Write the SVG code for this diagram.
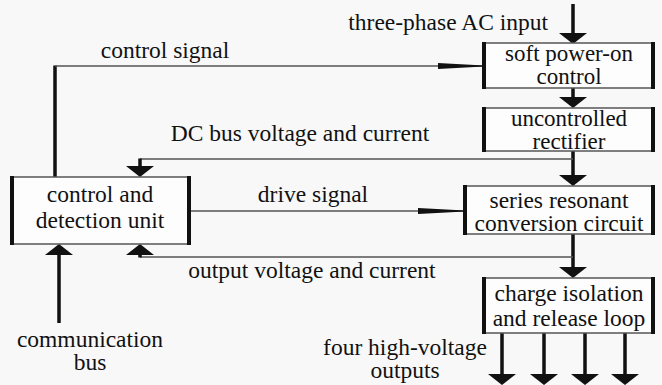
<svg xmlns="http://www.w3.org/2000/svg" width="662" height="385" viewBox="0 0 662 385">
<defs>
<style>
.bg{fill:#f8f8f8}
.box{fill:#fdfdfd;stroke:#555;stroke-width:1.5}
.side{stroke:#111;stroke-width:4}
.thick{stroke:#111;stroke-width:3.5;fill:none}
.thin{stroke:#555;stroke-width:1.5;fill:none}
.head{fill:#111}
</style>
</defs>
<rect class="bg" x="0" y="0" width="662" height="385"/>

<g id="connectors">
  <line class="thick" x1="573" y1="4" x2="573" y2="34"/>
  <polygon class="head" points="559,33 587,33 573,44"/>
  <line class="thick" x1="573" y1="88" x2="573" y2="98"/>
  <polygon class="head" points="559,97 587,97 573,108"/>
  <line class="thick" x1="573" y1="151" x2="573" y2="176"/>
  <polygon class="head" points="559,175 587,175 573,186"/>
  <line class="thick" x1="573" y1="234" x2="573" y2="268"/>
  <polygon class="head" points="559,267 587,267 573,278"/>
  <polyline class="thin" points="573,159 140,159"/>
  <line class="thick" x1="140" y1="158.5" x2="140" y2="167"/>
  <polygon class="head" points="126,166 154,166 140,177"/>
  <polyline class="thin" points="573,257 140,257"/>
  <line class="thick" x1="140" y1="257.5" x2="140" y2="253"/>
  <polygon class="head" points="126,255 154,255 140,244"/>
  <line class="thick" x1="55" y1="177" x2="55" y2="65.5"/>
  <line class="thin" x1="55" y1="66" x2="484" y2="66"/>
  <polygon class="head" points="438,63 484,65.5 484,66.5 438,69"/>
  <line class="thin" x1="189" y1="211" x2="465" y2="211"/>
  <polygon class="head" points="418,208 465,210.5 465,211.5 418,214"/>
  <line class="thick" x1="59" y1="323" x2="59" y2="253"/>
  <polygon class="head" points="45,255 73,255 59,244"/>
  <line class="thick" x1="502" y1="333" x2="502" y2="375"/>
  <polygon class="head" points="488,374 516,374 502,385"/>
  <line class="thick" x1="544" y1="333" x2="544" y2="375"/>
  <polygon class="head" points="530,374 558,374 544,385"/>
  <line class="thick" x1="585" y1="333" x2="585" y2="375"/>
  <polygon class="head" points="571,374 599,374 585,385"/>
  <line class="thick" x1="625" y1="333" x2="625" y2="375"/>
  <polygon class="head" points="611,374 639,374 625,385"/>
</g>

<g id="soft">
  <rect class="box" x="484" y="43" width="169" height="45"/>
  <line class="side" x1="484" y1="42" x2="484" y2="89"/>
  <line class="side" x1="653" y1="42" x2="653" y2="89"/>
  <text font-family="Liberation Serif" font-size="23" fill="#111" text-anchor="middle" x="569" y="61">soft power-on</text>
  <text font-family="Liberation Serif" font-size="23" fill="#111" text-anchor="middle" x="569" y="84">control</text>
</g>
<g id="rectifier">
  <rect class="box" x="484" y="108" width="169" height="43"/>
  <line class="side" x1="484" y1="107" x2="484" y2="152"/>
  <line class="side" x1="653" y1="107" x2="653" y2="152"/>
  <text font-family="Liberation Serif" font-size="23" fill="#111" text-anchor="middle" x="569" y="126">uncontrolled</text>
  <text font-family="Liberation Serif" font-size="23" fill="#111" text-anchor="middle" x="569" y="148.5">rectifier</text>
</g>
<g id="series">
  <rect class="box" x="465" y="186" width="188" height="48"/>
  <line class="side" x1="465" y1="185" x2="465" y2="235"/>
  <line class="side" x1="653" y1="185" x2="653" y2="235"/>
  <text font-family="Liberation Serif" font-size="23.5" fill="#111" text-anchor="middle" x="559" y="208">series resonant</text>
  <text font-family="Liberation Serif" font-size="23.5" fill="#111" text-anchor="middle" x="559" y="231">conversion circuit</text>
</g>
<g id="charge">
  <rect class="box" x="484" y="278" width="169" height="55"/>
  <line class="side" x1="484" y1="277" x2="484" y2="334"/>
  <line class="side" x1="653" y1="277" x2="653" y2="334"/>
  <text font-family="Liberation Serif" font-size="23.5" fill="#111" text-anchor="middle" x="569" y="301">charge isolation</text>
  <text font-family="Liberation Serif" font-size="23.5" fill="#111" text-anchor="middle" x="569" y="326">and release loop</text>
</g>
<g id="control">
  <rect class="box" x="12" y="177" width="177" height="67"/>
  <line class="side" x1="12" y1="176" x2="12" y2="245"/>
  <line class="side" x1="189" y1="176" x2="189" y2="245"/>
  <text font-family="Liberation Serif" font-size="23.5" fill="#111" text-anchor="middle" x="100" y="202">control and</text>
  <text font-family="Liberation Serif" font-size="23.5" fill="#111" text-anchor="middle" x="100" y="228">detection unit</text>
</g>

<g id="labels">
  <text font-family="Liberation Serif" font-size="23.5" fill="#111" text-anchor="end" x="548" y="30">three-phase AC input</text>
  <text font-family="Liberation Serif" font-size="23.5" fill="#111" text-anchor="middle" x="165" y="58">control signal</text>
  <text font-family="Liberation Serif" font-size="23.5" fill="#111" text-anchor="middle" x="300" y="141">DC bus voltage and current</text>
  <text font-family="Liberation Serif" font-size="23.5" fill="#111" text-anchor="middle" x="313" y="202">drive signal</text>
  <text font-family="Liberation Serif" font-size="23.5" fill="#111" text-anchor="middle" x="312" y="278">output voltage and current</text>
  <text font-family="Liberation Serif" font-size="23.5" fill="#111" text-anchor="middle" x="90" y="347">communication</text>
  <text font-family="Liberation Serif" font-size="23.5" fill="#111" text-anchor="middle" x="90" y="370">bus</text>
  <text font-family="Liberation Serif" font-size="23.5" fill="#111" text-anchor="middle" x="405" y="355">four high-voltage</text>
  <text font-family="Liberation Serif" font-size="23.5" fill="#111" text-anchor="middle" x="405" y="378">outputs</text>
</g>
</svg>
